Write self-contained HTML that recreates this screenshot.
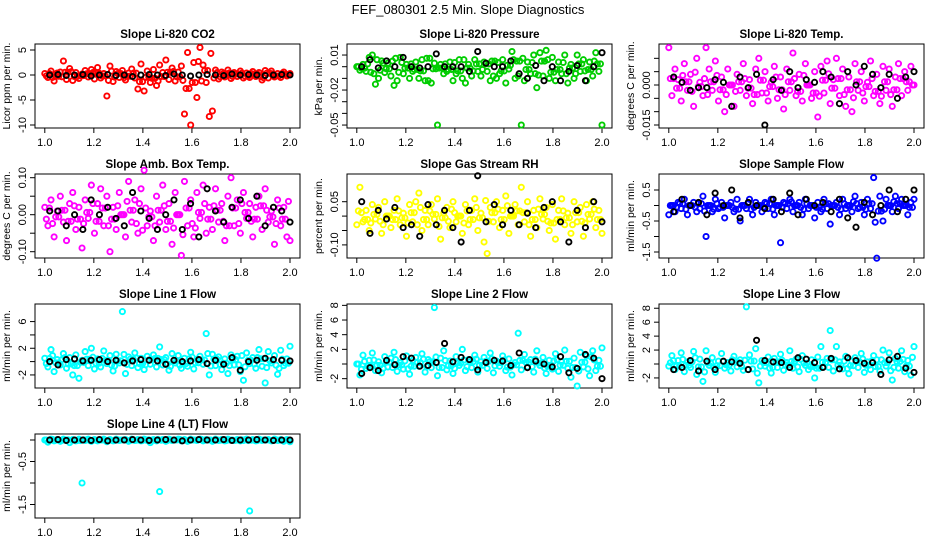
<!DOCTYPE html>
<html><head><meta charset="utf-8"><style>
html,body{margin:0;padding:0;background:#fff;}
svg{display:block;font-family:"Liberation Sans",Arial,sans-serif;}
</style></head><body>
<svg id="chart" width="936" height="540" viewBox="0 0 936 540">
<text x="468" y="14" text-anchor="middle" font-size="13">FEF_080301  2.5 Min. Slope Diagnostics</text>
</svg>
<script>
const titles=["Slope Li-820 CO2","Slope Li-820 Pressure","Slope Li-820 Temp.","Slope Amb. Box Temp.","Slope Gas Stream RH","Slope Sample Flow","Slope Line 1 Flow","Slope Line 2 Flow","Slope Line 3 Flow","Slope Line 4 (LT) Flow"];
const yTitles=["Licor ppm per min.","kPa per min.","degrees C per min.","degrees C per min.","percent per min.","ml/min per min.","ml/min per min.","ml/min per min.","ml/min per min.","ml/min per min."];
const colors=["#ff0000","#00cd00","#ff00ff","#ff00ff","#ffff00","#0000ff","#00ffff","#00ffff","#00ffff","#00ffff"];
const xTicks=[1.0,1.2,1.4,1.6,1.8,2.0];
const yTicks=[[-10,-5,0,5],[-0.05,-0.04,-0.03,-0.02,-0.01,0,0.01],[-0.015,-0.01,-0.005,0,0.005,0.01],[-0.1,-0.05,0,0.05,0.1],[-0.1,-0.05,0,0.05],[-1.5,-1,-0.5,0,0.5],[-2,0,2,4,6],[-2,0,2,4,6,8],[-2,0,2,4,6,8],[-1.5,-1,-0.5,0]];
const yLabels=[["-10","-5","0","5"],["-0.05","","","-0.02","","","0.01"],["-0.015","","","0.000","",""],["-0.10","","0.00","","0.10"],["-0.10","","","0.05"],["-1.5","","-0.5","","0.5"],["-2","","2","","6"],["-2","","2","4","6","8"],["-2","","2","4","6","8"],["-1.5","","-0.5",""]];
const s1=[0.3,-0.5,0.8,-1.2,0.4,0.6,2.8,-0.9,1.3,-1.1,0.5,-0.7,0.2,0.9,-0.4,1.1,-0.8,1.5,-0.6,0.3,-4.2,1.8,-1.3,0.7,-0.5,0.9,-1.0,0.4,1.2,-0.6,-2.8,2.2,-3.2,0.8,-1.5,1.1,-2.1,2.0,0.5,3.0,-0.9,1.4,-1.2,0.6,1.8,-7.8,4.5,-10,2.5,-4.5,5.5,2.0,-1.5,-8.3,-7.2,1.0,-0.8,0.6,-0.4,1.0,-0.7,0.5,-0.3,0.8,-0.6,0.4,-0.5,0.7,-0.3,0.5,-1.0,0.9,-0.6,0.8,-0.4,0.3,-0.5,0.6,-0.2,0.3];
const s2=[0,-0.003,0.002,-0.004,0.008,0.01,-0.015,-0.01,0.005,-0.005,0.003,-0.008,-0.016,-0.012,0.008,-0.006,0.002,-0.01,-0.004,0.004,-0.01,0.006,-0.012,-0.012,-0.014,0.003,-0.05,0.002,-0.006,-0.004,0.004,-0.012,-0.006,0.006,-0.01,-0.014,0.002,-0.008,0.006,-0.004,-0.008,0.004,-0.004,-0.012,-0.008,-0.01,-0.006,0.006,-0.014,-0.002,0.013,-0.01,-0.008,-0.05,-0.012,0.004,-0.006,0.01,-0.018,0.012,-0.008,0.014,-0.01,0.008,-0.012,0.004,-0.006,0.01,-0.014,0.002,-0.01,0.01,-0.004,0.006,-0.012,0.004,-0.008,0.012,-0.004,-0.05];
const s3=[0.014,-0.004,0.006,0.002,-0.006,0.008,-0.002,0.004,-0.008,0.01,0.001,-0.004,0.014,0.006,-0.002,0.009,-0.006,0.003,-0.01,0.006,0,-0.008,0.004,-0.002,0.008,-0.004,0.002,-0.007,0.006,0.01,-0.003,0.005,-0.006,0.001,0.007,-0.005,0.003,-0.009,0.006,-0.002,0.012,-0.004,0.004,-0.006,0.008,0,-0.005,0.005,-0.012,0.007,-0.003,0.009,-0.007,0.002,0.01,-0.004,0.006,-0.008,0.003,-0.01,0.008,-0.002,0.005,-0.006,0.001,0.009,-0.004,0.004,-0.007,0.007,-0.002,0.006,-0.008,0.003,0.008,-0.004,0.005,-0.002,0.007,0];
const s4=[0.02,-0.03,0.04,-0.06,0.01,0.05,-0.02,-0.07,0.03,0.06,-0.04,0.02,-0.09,0.04,-0.01,0.08,-0.05,0.03,0.07,-0.03,0.05,-0.1,0.02,-0.04,0.06,0,-0.06,0.09,-0.02,0.04,-0.05,0.07,0.12,-0.03,0.01,-0.07,0.05,-0.02,0.08,-0.04,0.03,-0.08,0.06,0,-0.11,0.09,-0.03,0.04,-0.06,0.06,-0.01,0.08,-0.05,0.02,-0.04,0.07,-0.02,0.03,-0.07,0.05,0.1,-0.03,0.04,-0.05,0.06,-0.01,0.03,-0.06,0.02,0.05,-0.04,0.07,-0.02,0.01,-0.08,0.04,-0.03,0.02,-0.06,-0.07];
const s5=[-0.03,0.1,-0.02,0.02,-0.05,0.04,-0.01,0.03,-0.06,0.05,0,-0.04,0.02,0.06,-0.03,0.01,-0.07,0.04,-0.02,0.05,0.08,-0.05,0.02,-0.03,0.04,-0.01,0.06,-0.08,0.01,0.03,-0.04,0.05,-0.02,0,-0.06,0.04,-0.03,0.02,0.06,-0.05,0.01,-0.09,-0.13,0.03,-0.02,0.05,-0.04,0.02,0.07,-0.06,0,0.04,-0.03,0.1,-0.02,0.05,-0.07,0.02,-0.04,0.06,-0.01,0.03,-0.05,0.04,-0.08,0.02,0.06,-0.03,0.01,-0.06,0.05,-0.02,0.03,-0.07,0.04,-0.01,0.05,-0.04,0.02,-0.06];
const s6=[-0.3,0,-0.2,0.1,-0.1,0.2,-0.3,0,0.1,-0.2,-0.1,0.3,-1.0,0,-0.2,0.2,-0.1,0.1,-0.4,0,0.1,-0.2,0.2,-0.5,0,-0.1,0.2,-0.3,0.1,0,-0.2,0.1,-0.1,0.2,-0.3,0,-1.2,0.1,-0.1,0.2,-0.2,0,0.1,-0.3,0.2,-0.1,0,-0.4,0.1,-0.2,0.2,-0.1,-0.6,0,0.1,-0.3,0.2,-0.1,0,-0.2,0.3,-0.1,0.1,-0.3,0.2,-0.1,0.9,-1.7,0.3,-0.5,0.2,0,-0.2,0.3,-0.1,0.2,0,-0.3,0.1,0.2];
const s7=[0.5,-0.8,1.8,-1.5,0.3,-0.5,1.2,-1,0.6,-2,1,-2.5,0.2,1.5,-0.6,2,-1.1,0.4,-0.8,1.6,-0.3,0.9,-1.4,1.1,-0.2,7.5,-1.8,0.7,-0.6,1.3,-0.9,0.5,-1.2,0.8,-0.4,1.0,-0.8,2.2,-0.5,0.6,-1.3,1.2,-0.2,0.9,-1.0,0.5,-0.7,1.4,-1.1,0.3,0.8,-0.4,4.2,-2,1.1,-0.6,0.7,-1.2,0.4,-1.8,1.0,-0.5,0.8,-1.5,-2.8,1.3,-0.3,0.6,-1.0,1.8,-0.7,-3.2,1.5,-0.2,0.9,-1.9,1.7,-0.6,0.4,2.3];
const s8=[0,-1.5,1.2,-0.6,0.5,1.5,-0.9,0.3,-1.2,1.0,-0.4,0.8,1.6,-1.0,0.2,-0.7,1.1,-1.4,0.5,0.9,-0.3,1.4,-1.1,0.6,-0.5,7.7,-1.6,0.8,1.8,-0.8,0.4,-1.3,1.0,-0.2,2.0,-0.9,0.6,-0.5,1.2,-1.1,0.3,0.9,-0.6,1.5,-1.2,0.4,-0.3,1.1,-0.9,0.7,-1.5,0.2,4.2,-0.8,1.3,-0.4,0.6,-1.1,1.8,-0.2,0.9,-1.3,0.5,-0.7,1.4,-1.0,0.3,1.9,-0.6,-1.8,0.8,-3.0,1.6,-0.4,1.1,-1.6,1.8,-0.9,0.5,2.2];
const s9=[-0.3,1.2,-0.8,0.5,1.6,-1.1,0.3,-0.5,1.8,-1.5,0.7,-2.5,1.9,-0.2,0.9,-1.2,0.4,1.5,-0.6,0.2,-1.0,1.1,-0.4,0.6,-0.9,8.2,1.3,-0.7,2.2,-2.7,0.5,-0.3,1.0,-1.3,0.8,-0.5,1.4,-0.9,0.2,1.9,-0.6,0.7,-1.1,1.2,-0.2,-0.8,0.6,-2.0,1.0,2.5,-0.4,0.8,4.8,-1.0,2.5,0.3,-0.7,1.1,-1.4,0.4,0.9,-0.5,1.5,-1.2,0.3,-0.8,1.2,0.6,-1.0,2.0,-0.3,1.6,-2.3,0.8,-0.6,1.9,-1.1,0.5,-1.6,2.5];
const s10=[0,-0.05,0.02,-0.02,0.01,-0.03,0.02,-0.01,-0.06,0.01,-0.02,0.02,-1.0,-0.01,0.02,-0.03,0.01,-0.02,0,0.02,-0.04,0.01,-0.02,0.02,-0.01,0,0.01,-0.03,0.02,-0.01,0.01,-0.02,0.02,-0.01,-0.06,0.01,-0.02,-1.2,0.01,-0.03,0.02,-0.01,0,0.02,-0.02,0.01,-0.03,0.02,0,-0.01,0.02,-0.02,0.01,0,-0.03,0.02,-0.01,0.01,-0.02,0.02,0,-0.01,0.01,-0.02,-0.01,0.02,-1.65,0.01,-0.02,0.02,-0.01,0,0.01,-0.02,0.02,-0.01,0.01,-0.03,0.01,-0.04];
const b1=[0,0.1,-0.1,0,0.1,-0.2,0,0.1,-0.1,0,-0.3,0,0.1,0,-0.1,0.2,0,-0.2,0,0.1,0,-0.1,0.2,0,0.1,0,-0.1,0,0.1,0];
const b2=[0,0.006,-0.001,0.005,0,0.008,0,-0.001,0,0.011,0,0,0,-0.004,0.013,0.003,0,0,0.005,-0.006,-0.01,0.001,-0.012,0,-0.012,-0.004,0.001,-0.012,0,0.012];
const b3=[0.003,0.001,-0.002,-0.001,-0.001,0.002,0.001,-0.008,0.003,-0.001,0.004,-0.015,0.002,-0.002,0.005,-0.001,0.002,0.001,0.005,0.003,-0.007,0.005,0,0.007,0.004,-0.001,0.004,-0.005,0.003,0.005];
const b4=[0.01,0.01,-0.03,0,-0.04,0.04,0,0.02,-0.01,-0.03,0.06,0.01,-0.01,-0.04,0,0.04,-0.04,0.03,-0.06,0.07,0.01,-0.02,0.02,0.04,-0.01,0.05,-0.03,0.02,0.01,-0.02];
const b5=[0.05,-0.06,0.02,-0.01,0.03,-0.04,-0.03,-0.07,0.04,-0.03,0.02,-0.04,-0.09,0.02,0.14,-0.02,0.04,-0.03,0.02,-0.03,0.01,-0.04,0.03,0.05,-0.02,-0.09,0.02,-0.04,0.05,-0.02];
const b6=[-0.2,0.2,0,0.1,-0.3,0.4,0,0.5,-0.4,0.1,0,-0.1,0.2,-0.2,0.4,-0.3,0.2,0,0.1,-0.2,0.2,-0.4,-0.7,0.1,-0.3,0,0.5,-0.2,0.2,0.5];
const b7=[0,-0.5,0.3,0.4,0.1,0.2,0.3,0,0.2,-0.2,0.1,0.3,0.2,0.1,-0.4,0.2,0,0.1,0.3,-0.3,0.2,-0.4,0.6,-1.3,0,0.2,0.5,0.3,0.2,0.1];
const b8=[-1.3,-0.5,-0.9,0.5,-0.1,1.0,0.8,-0.3,-0.2,0.2,2.8,0.3,0.9,0.6,-0.8,0.2,0.5,0.4,-0.2,1.5,-0.5,0.4,0,-0.4,1.0,-1.2,-0.6,1.3,0.8,-2.0];
const b9=[-0.8,-0.5,0.5,-1.0,0.4,-0.8,0.4,0.3,0.1,-0.8,3.4,0.5,0.3,0.2,-0.5,0.9,0.7,0.2,-0.5,0.8,-0.7,0.9,0.5,0.1,0.2,-1.5,0.6,1.1,-0.6,-1.2];
const b10=[0,0.01,-0.01,0,0,-0.01,0.01,-0.02,0,0,0.01,0,-0.01,0,0.01,0,-0.02,0,0.01,0,0,0.01,-0.01,0,0,0.01,0,-0.01,0,0];
const colorSeries=[s1,s2,s3,s4,s5,s6,s7,s8,s9,s10];
const blackSeries=[b1,b2,b3,b4,b5,b6,b7,b8,b9,b10];

const yZeroPx=[75,66.7,85,214.7,216.1,205.5,361.6,364,364,440];
const yPxPerUnit=[5,1167,2667,370,288,31,6.67,7.33,6.97,43];
const NS="http://www.w3.org/2000/svg";
const svg=document.getElementById('chart');
function mk(tag,attrs,parent){const e=document.createElementNS(NS,tag);for(const k in attrs)e.setAttribute(k,attrs[k]);(parent||svg).appendChild(e);return e;}
const rowTop=[44,174,304,434],boxH=84,boxW=265;
for(let p=0;p<10;p++){
  const col=p%3,row=Math.floor(p/3);
  const L=35+312*col,T=rowTop[row],B=T+boxH;
  const xScale=v=>L+9.8+(v-1)*245.2;
  const yScale=v=>yZeroPx[p]-v*yPxPerUnit[p];
  const g=mk('g',{});
  
  
  const t=mk('text',{x:L+boxW/2,y:T-6,'text-anchor':'middle','font-size':11.5,'font-weight':'bold'},g);
  
  
  t.textContent=titles[p];
  const box=mk('rect',{x:L,y:T,width:boxW,height:boxH,fill:'none',stroke:'#000','stroke-width':1},g);
  
  
  const xa=mk('g',{},g);
  
  
  mk('line',{x1:xScale(1),x2:xScale(2),y1:B,y2:B,stroke:'#000'},xa);
  xTicks.forEach(v=>{
    mk('line',{x1:xScale(v),x2:xScale(v),y1:B,y2:B+5,stroke:'#000'},xa);
    const tl=mk('text',{x:xScale(v),y:B+18,'text-anchor':'middle','font-size':11},xa);
    
    
    tl.textContent=v.toFixed(1);
  });
  const ya=mk('g',{},g);
  
  
  const yt=yTicks[p];
  mk('line',{x1:L,x2:L,y1:yScale(yt[0]),y2:yScale(yt[yt.length-1]),stroke:'#000'},ya);
  yt.forEach((v,i)=>{
    const y=yScale(v);
    mk('line',{x1:L-5,x2:L,y1:y,y2:y,stroke:'#000'},ya);
    if(yLabels[p][i]){
      const tl=mk('text',{x:0,y:0,'text-anchor':'middle','font-size':11,transform:`translate(${L-9},${y}) rotate(-90)`},ya);
      
      
      tl.textContent=yLabels[p][i];
    }
  });
  const ytl=mk('text',{x:0,y:0,'text-anchor':'middle','font-size':10.5,transform:`translate(${L-25},${T+boxH/2}) rotate(-90)`},g);
  
  
  ytl.textContent=yTitles[p];
  const cs=colorSeries[p];
  cs.forEach((v,i)=>{
    const c=mk('circle',{cx:xScale(1+i/(cs.length-1)),cy:yScale(v),r:2.6,fill:'none',stroke:colors[p],'stroke-width':1.9},g);
    
    
  });
  // densify the core band: mirrored copy of the smaller neighbour value
  cs.forEach((v,i)=>{
    if(i===0)return;
    const a=cs[i-1], m=Math.abs(a)<Math.abs(v)?a:v;
    const c=mk('circle',{cx:xScale(1+(i-0.5)/(cs.length-1)),cy:yScale(-0.6*m),r:2.6,fill:'none',stroke:colors[p],'stroke-width':1.9},g);
    
    
  });
  const bs=blackSeries[p];
  bs.forEach((v,i)=>{
    const c=mk('circle',{cx:xScale(1.02+0.98*i/(bs.length-1)),cy:yScale(v),r:2.6,fill:'none',stroke:'#000','stroke-width':1.9},g);
    
    
  });
}
</script>
</body></html>
